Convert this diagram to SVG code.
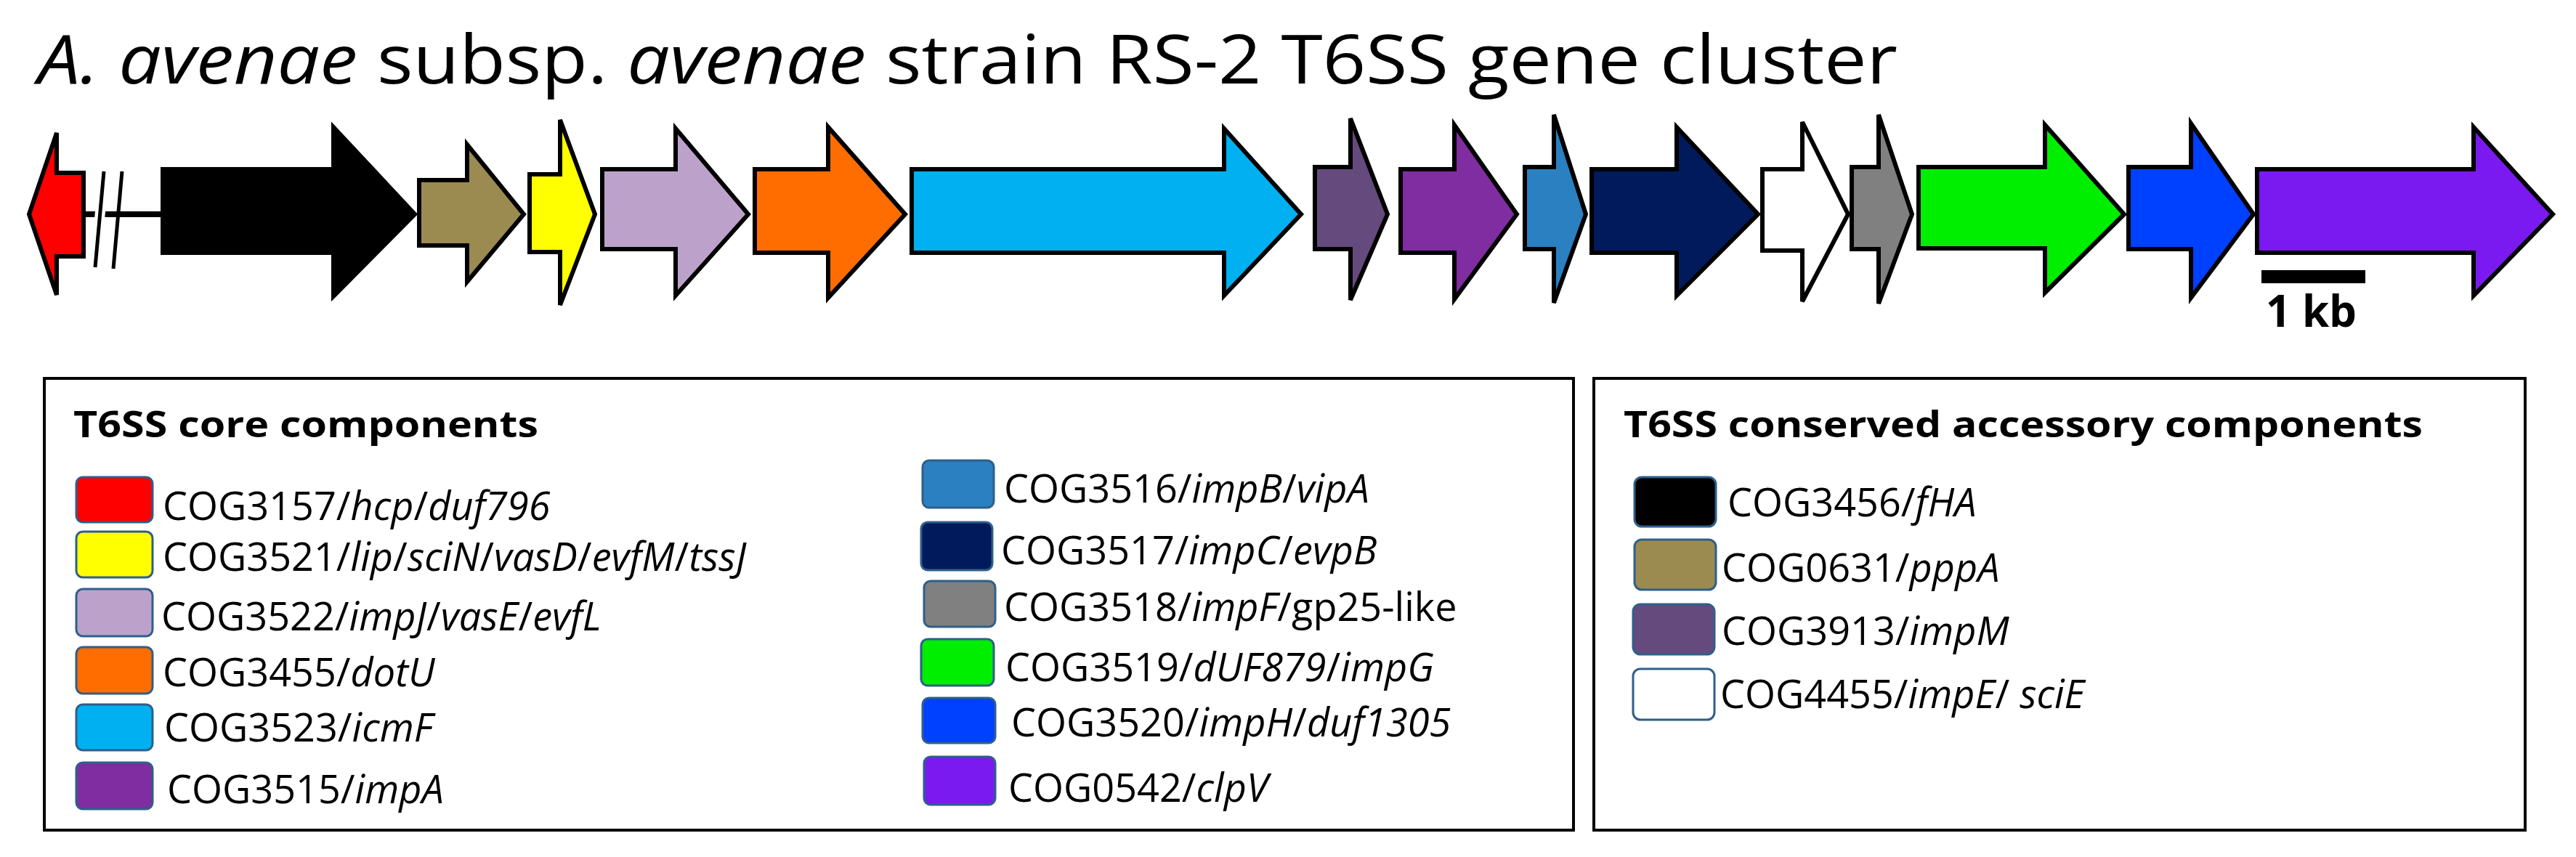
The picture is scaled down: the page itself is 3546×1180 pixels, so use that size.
<svg xmlns="http://www.w3.org/2000/svg" width="3546" height="1180" viewBox="0 0 3546 1180">
<style>
.g{stroke:#000;stroke-width:6;stroke-linejoin:miter}
.t{font-family:"Open Sans","Liberation Sans",sans-serif;fill:#000}
.lt{font-family:"Open Sans","Liberation Sans",sans-serif;font-size:54px;fill:#000}
.hd{font-family:"Open Sans","Liberation Sans",sans-serif;font-size:50px;font-weight:bold;fill:#000}
.sw{stroke:#2f5f8a;stroke-width:3}
.box{fill:none;stroke:#000;stroke-width:4}
</style>
<rect width="3546" height="1180" fill="#fff"/>
<text class="t" x="52" y="115" font-size="94" textLength="2560" lengthAdjust="spacingAndGlyphs"><tspan font-style="italic">A. avenae</tspan> subsp. <tspan font-style="italic">avenae</tspan> strain RS-2 T6SS gene cluster</text>
<g id="connectors">
<line x1="115" y1="295" x2="224" y2="295" stroke="#000" stroke-width="8"/>
<line x1="143" y1="236" x2="131" y2="368" stroke="#fff" stroke-width="14"/>
<line x1="143" y1="236" x2="131" y2="368" stroke="#000" stroke-width="5"/>
<line x1="168" y1="236" x2="156" y2="370" stroke="#000" stroke-width="5"/>
</g>
<g id="genes">
<polygon id="hcp" class="g" fill="#ff0000" points="115,238 78,238 78,183 40,295 78,406 78,353 115,353"/>
<polygon id="fha" class="g" fill="#000" points="224,233 459,233 459,175 571,295 459,408 459,348 224,348"/>
<polygon id="pppA" class="g" fill="#9b8b50" points="577,248 643,248 643,199 721,295 643,388 643,338 577,338"/>
<polygon id="lip" class="g" fill="#ffff00" points="729,240 771,240 771,165 819,295 771,420 771,347 729,347"/>
<polygon id="impJ" class="g" fill="#bca2ca" points="829,233 930,233 930,177 1030,295 930,407 930,343 829,343"/>
<polygon id="dotU" class="g" fill="#ff6d00" points="1039,233 1140,233 1140,175 1246,295 1140,410 1140,348 1039,348"/>
<polygon id="icmF" class="g" fill="#00b0f0" points="1255,233 1685,233 1685,177 1791,295 1685,407 1685,348 1255,348"/>
<polygon id="impM" class="g" fill="#654a7e" points="1810,230 1859,230 1859,163 1910,295 1859,413 1859,343 1810,343"/>
<polygon id="impA" class="g" fill="#7f2da0" points="1928,233 2002,233 2002,172 2088,295 2002,412 2002,348 1928,348"/>
<polygon id="impB" class="g" fill="#2a80c0" points="2099,230 2139,230 2139,158 2183,295 2139,417 2139,343 2099,343"/>
<polygon id="impC" class="g" fill="#001a5c" points="2191,233 2308,233 2308,175 2420,295 2308,407 2308,348 2191,348"/>
<polygon id="impE" class="g" fill="#fff" points="2426,233 2481,233 2481,168 2544,295 2481,415 2481,345 2426,345"/>
<polygon id="impF" class="g" fill="#808080" points="2549,230 2586,230 2586,158 2632,295 2586,418 2586,343 2549,343"/>
<polygon id="impG" class="g" fill="#00ee00" points="2641,230 2815,230 2815,172 2924,295 2815,403 2815,342 2641,342"/>
<polygon id="impH" class="g" fill="#0040ff" points="2930,230 3016,230 3016,170 3102,295 3016,410 3016,343 2930,343"/>
<polygon id="clpV" class="g" fill="#7b1af0" points="3107,233 3405,233 3405,175 3514,295 3405,407 3405,348 3107,348"/>
</g>
<g id="scalebar">
<rect x="3113" y="372" width="143" height="18" fill="#000"/>
<text class="t" x="3119" y="450" font-size="60" font-weight="bold">1 kb</text>
</g>
<g id="legend-core">
<rect class="box" x="61" y="521" width="2105" height="622"/>
<text class="hd" x="101" y="602" textLength="640" lengthAdjust="spacingAndGlyphs">T6SS core components</text>
<rect class="sw" x="105" y="657" width="105" height="62" rx="9" fill="#ff0000"/>
<text class="lt" x="224" y="716">COG3157/<tspan font-style="italic">hcp</tspan>/<tspan font-style="italic">duf796</tspan></text>
<rect class="sw" x="105" y="732" width="105" height="63" rx="9" fill="#ffff00"/>
<text class="lt" x="224" y="786">COG3521/<tspan font-style="italic">lip</tspan>/<tspan font-style="italic">sciN</tspan>/<tspan font-style="italic">vasD</tspan>/<tspan font-style="italic">evfM</tspan>/<tspan font-style="italic">tssJ</tspan></text>
<rect class="sw" x="105" y="811" width="105" height="65" rx="9" fill="#bca2ca"/>
<text class="lt" x="222" y="868">COG3522/<tspan font-style="italic">impJ</tspan>/<tspan font-style="italic">vasE</tspan>/<tspan font-style="italic">evfL</tspan></text>
<rect class="sw" x="105" y="891" width="105" height="64" rx="9" fill="#ff6d00"/>
<text class="lt" x="224" y="945">COG3455/<tspan font-style="italic">dotU</tspan></text>
<rect class="sw" x="105" y="970" width="105" height="63" rx="9" fill="#00b0f0"/>
<text class="lt" x="226" y="1021">COG3523/<tspan font-style="italic">icmF</tspan></text>
<rect class="sw" x="105" y="1050" width="105" height="64" rx="9" fill="#7f2da0"/>
<text class="lt" x="230" y="1106">COG3515/<tspan font-style="italic">impA</tspan></text>
<rect class="sw" x="1270" y="634" width="98" height="65" rx="9" fill="#2a80c0"/>
<text class="lt" x="1382" y="692">COG3516/<tspan font-style="italic">impB</tspan>/<tspan font-style="italic">vipA</tspan></text>
<rect class="sw" x="1268" y="719" width="98" height="66" rx="9" fill="#001a5c"/>
<text class="lt" x="1378" y="777">COG3517/<tspan font-style="italic">impC</tspan>/<tspan font-style="italic">evpB</tspan></text>
<rect class="sw" x="1272" y="800" width="98" height="63" rx="9" fill="#808080"/>
<text class="lt" x="1382" y="855">COG3518/<tspan font-style="italic">impF</tspan>/gp25-like</text>
<rect class="sw" x="1268" y="880" width="100" height="64" rx="9" fill="#00ee00"/>
<text class="lt" x="1384" y="938">COG3519/<tspan font-style="italic">dUF879</tspan>/<tspan font-style="italic">impG</tspan></text>
<rect class="sw" x="1270" y="961" width="100" height="62" rx="9" fill="#0040ff"/>
<text class="lt" x="1392" y="1014">COG3520/<tspan font-style="italic">impH</tspan>/<tspan font-style="italic">duf1305</tspan></text>
<rect class="sw" x="1272" y="1042" width="98" height="66" rx="9" fill="#7b1af0"/>
<text class="lt" x="1388" y="1104">COG0542/<tspan font-style="italic">clpV</tspan></text>
</g>
<g id="legend-accessory">
<rect class="box" x="2194" y="521" width="1282" height="622"/>
<text class="hd" x="2235" y="602" textLength="1100" lengthAdjust="spacingAndGlyphs">T6SS conserved accessory  components</text>
<rect class="sw" x="2250" y="657" width="112" height="68" rx="10" fill="#000"/>
<text class="lt" x="2378" y="711">COG3456/<tspan font-style="italic">fHA</tspan></text>
<rect class="sw" x="2250" y="743" width="112" height="69" rx="10" fill="#9b8b50"/>
<text class="lt" x="2370" y="801">COG0631/<tspan font-style="italic">pppA</tspan></text>
<rect class="sw" x="2248" y="832" width="112" height="69" rx="10" fill="#654a7e"/>
<text class="lt" x="2370" y="888">COG3913/<tspan font-style="italic">impM</tspan></text>
<rect class="sw" x="2248" y="921" width="112" height="70" rx="10" fill="#fff"/>
<text class="lt" x="2368" y="975">COG4455/<tspan font-style="italic">impE</tspan>/ <tspan font-style="italic">sciE</tspan></text>
</g>
</svg>
